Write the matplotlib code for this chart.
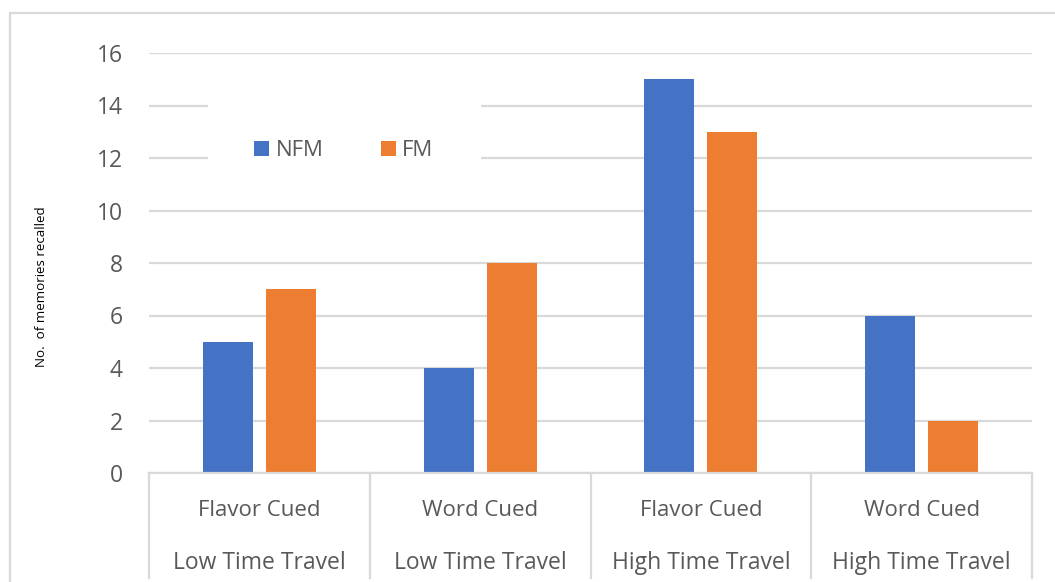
import matplotlib.pyplot as plt
import matplotlib.patches as mpatches
import matplotlib.transforms as mtransforms

cues = ['Flavor Cued', 'Word Cued', 'Flavor Cued', 'Word Cued']
travel = ['Low Time Travel', 'Low Time Travel', 'High Time Travel', 'High Time Travel']
nfm = [5, 4, 15, 6]
fm = [7, 8, 13, 2]
y_ticks = [0, 2, 4, 6, 8, 10, 12, 14, 16]

azul = '#4472C4'
laranja = '#ED7D31'
cinza = '#D9D9D9'
texto = '#595959'

plt.rcParams['font.family'] = ['Open Sans', 'DejaVu Sans']

fig = plt.figure(figsize=(10.55, 5.82), dpi=100)
ax = fig.add_axes([149 / 1055, 109 / 582, 883 / 1055, 420 / 582])

largura = 0.226
desloc = 0.1425
xs = list(range(len(cues)))
ax.bar([x - desloc for x in xs], nfm, largura, color=azul, label='NFM', zorder=3)
ax.bar([x + desloc for x in xs], fm, largura, color=laranja, label='FM', zorder=3)

ax.set_xlim(-0.5, len(cues) - 0.5)
ax.set_ylim(0, 16)
ax.set_yticks(y_ticks)
ax.tick_params(axis='y', length=0, pad=19, labelsize=16.5, labelcolor=texto)
ax.set_xticks([])
ax.yaxis.grid(True, color=cinza, linewidth=1.6, zorder=0)
for lado in ['left', 'right', 'top', 'bottom']:
    ax.spines[lado].set_visible(False)

# eixo de categorias em dois niveis
trans = mtransforms.blended_transform_factory(ax.transData, ax.transAxes)
ax.plot([-0.5, len(cues) - 0.5], [0, 0], transform=trans, color=cinza,
        linewidth=1.6, clip_on=False, zorder=4)
for i in range(len(cues) + 1):
    ax.plot([i - 0.5, i - 0.5], [0, -0.25], transform=trans, color=cinza,
            linewidth=1.6, clip_on=False)
for i in xs:
    ax.text(i, -0.09, cues[i], transform=trans, ha='center', va='center',
            fontsize=16, color=texto)
    ax.text(i, -0.214, travel[i], transform=trans, ha='center', va='center',
            fontsize=16.5, color=texto)

fig.text(42 / 1055, 1 - 287 / 582, 'No.  of memories recalled', rotation=90,
         ha='center', va='center', fontsize=9.6, color='black')

leg = ax.legend(loc='center', bbox_to_anchor=(344 / 1055, 1 - 151 / 582),
                bbox_transform=fig.transFigure, ncol=2, frameon=True,
                fontsize=16, handlelength=0.65, handleheight=0.65,
                handletextpad=0.3, columnspacing=2.6, borderpad=2.1)
leg.get_frame().set_facecolor('white')
leg.get_frame().set_edgecolor('white')
leg.get_frame().set_alpha(1)
for t in leg.get_texts():
    t.set_color(texto)

# moldura externa do grafico
fig.patches.append(mpatches.Rectangle((10 / 1055, -0.1), 1.2, 1 - 13 / 582 + 0.1,
                                      transform=fig.transFigure, fill=False,
                                      edgecolor=cinza, linewidth=1.6))

plt.savefig('out.png', dpi=100)
